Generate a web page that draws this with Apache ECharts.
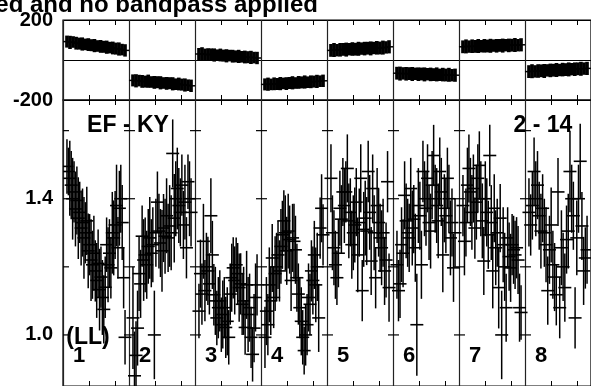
<!DOCTYPE html>
<html>
<head>
<meta charset="utf-8">
<script src="https://cdn.jsdelivr.net/npm/echarts@6/dist/echarts.min.js"></script>
<style>
html,body{margin:0;padding:0;background:#fff;}
#chart{width:591px;height:386px;}
</style>
</head>
<body>
<div id="chart"></div>
<script>
// scan labels along the bottom
const panelNames = ['1', '2', '3', '4', '5', '6', '7', '8'];
const phaseLabels = [-200, 200];
const ampTicks = [1.0, 1.2, 1.4, 1.6];
const ampLabels = [1.0, 1.4];

// phase (deg) per scan: [value, error]
const phase1 = [[92,30],[88,33],[90,29],[84,32],[82,30],[80,33],[78,29],[77,32],[74,30],[72,33],[70,29],[68,32],[66,30],[64,33],[62,29],[60,32],[57,30],[55,33],[52,29],[48,31]];
const phase2 = [[-102,30],[-104,33],[-103,29],[-107,32],[-108,30],[-106,33],[-110,29],[-112,32],[-111,30],[-114,33],[-115,29],[-117,32],[-116,30],[-119,33],[-121,29],[-120,32],[-123,30],[-125,33],[-126,29],[-129,31]];
const phase3 = [[30,30],[31,33],[28,29],[27,32],[28,30],[25,33],[24,29],[25,32],[22,30],[21,33],[22,29],[19,32],[18,30],[18,33],[16,29],[15,32],[14,30],[13,33],[12,29],[10,31]];
const phase4 = [[-122,30],[-121,33],[-122,29],[-119,32],[-120,30],[-118,33],[-117,29],[-118,32],[-115,30],[-114,33],[-115,29],[-112,32],[-112,30],[-110,33],[-111,29],[-109,32],[-108,30],[-107,33],[-106,29],[-104,31]];
const phase5 = [[48,32],[50,35],[49,31],[51,34],[53,32],[52,35],[54,31],[55,34],[54,32],[56,35],[57,31],[57,34],[59,32],[58,35],[60,31],[61,34],[60,32],[62,35],[63,31],[66,33]];
const phase6 = [[-66,32],[-68,35],[-67,31],[-69,34],[-68,32],[-70,35],[-69,31],[-71,34],[-70,32],[-72,35],[-71,31],[-72,34],[-73,32],[-72,35],[-74,31],[-73,34],[-75,32],[-74,35],[-76,31],[-76,33]];
const phase7 = [[66,32],[68,35],[67,31],[69,34],[68,32],[70,35],[69,31],[71,34],[70,32],[71,35],[72,31],[71,34],[73,32],[72,35],[74,31],[73,34],[74,32],[75,35],[74,31],[76,33]];
const phase8 = [[-58,32],[-56,35],[-57,31],[-55,34],[-54,32],[-55,35],[-52,31],[-52,34],[-51,32],[-50,35],[-50,31],[-48,34],[-48,32],[-47,35],[-46,31],[-46,34],[-44,32],[-44,35],[-43,31],[-42,33]];

// amplitude per scan: [value, error]
const amp1 = [[1.495,0.08],[1.48,0.07],[1.46,0.11],[1.44,0.10],[1.40,0.12],[1.42,0.09],[1.37,0.11],[1.395,0.10],[1.343,0.12],[1.36,0.09],[1.314,0.11],[1.33,0.10],[1.285,0.12],[1.30,0.09],[1.335,0.10],[1.247,0.11],[1.265,0.09],[1.22,0.12],[1.206,0.10],[1.24,0.11],[1.188,0.09],[1.16,0.11],[1.21,0.10],[1.133,0.12],[1.17,0.09],[1.11,0.11],[1.075,0.10],[1.14,0.09],[1.265,0.08],[1.206,0.11],[1.24,0.10],[1.197,0.09],[1.30,0.12],[1.285,0.11],[1.323,0.10],[1.38,0.12],[1.256,0.09],[1.372,0.11],[1.40,0.10],[1.33,0.11],[1.168,0.09],[0.993,0.08]];
const amp2 = [[1.05,0.15],[0.88,0.13],[0.94,0.10],[1.02,0.11],[1.18,0.11],[1.15,0.10],[1.29,0.09],[1.22,0.12],[1.235,0.11],[1.206,0.10],[1.26,0.11],[1.285,0.12],[1.24,0.10],[1.265,0.11],[1.0,0.13],[1.30,0.10],[1.39,0.09],[1.305,0.11],[1.27,0.10],[1.247,0.12],[1.314,0.10],[1.29,0.11],[1.35,0.11],[1.285,0.10],[1.32,0.12],[1.30,0.11],[1.533,0.10],[1.343,0.13],[1.40,0.11],[1.43,0.12],[1.38,0.11],[1.36,0.10],[1.44,0.09],[1.323,0.10],[1.39,0.11],[1.256,0.09],[1.45,0.08],[1.40,0.11],[1.36,0.10]];
const amp3 = [[1.07,0.08],[1.18,0.10],[1.12,0.09],[1.275,0.11],[1.13,0.09],[1.20,0.10],[1.188,0.10],[1.15,0.09],[1.35,0.11],[1.235,0.10],[1.118,0.09],[1.10,0.10],[1.05,0.08],[1.08,0.09],[1.10,0.09],[1.03,0.08],[1.06,0.10],[1.08,0.09],[1.022,0.09],[1.04,0.10],[0.993,0.08],[1.12,0.09],[1.168,0.10],[1.197,0.09],[1.16,0.10],[1.206,0.08],[1.18,0.09],[1.139,0.10],[1.15,0.09],[1.09,0.09],[1.10,0.10],[1.022,0.08],[1.147,0.10],[1.06,0.11],[1.08,0.10],[0.993,0.09],[0.943,0.08],[1.02,0.10],[1.11,0.10],[1.147,0.09]];
const amp4 = [[0.993,0.09],[1.07,0.10],[1.03,0.09],[1.147,0.11],[1.10,0.10],[1.226,0.10],[1.11,0.09],[1.18,0.11],[1.20,0.10],[1.235,0.10],[1.188,0.09],[1.26,0.11],[1.294,0.10],[1.335,0.09],[1.30,0.11],[1.247,0.10],[1.305,0.11],[1.28,0.10],[1.16,0.09],[1.285,0.10],[1.275,0.11],[1.25,0.10],[1.168,0.10],[1.12,0.09],[1.08,0.09],[1.04,0.10],[0.993,0.08],[0.954,0.07],[1.00,0.09],[1.03,0.09],[1.11,0.10],[1.09,0.09],[1.188,0.09],[1.16,0.10],[1.235,0.10],[1.147,0.11],[1.20,0.10],[1.05,0.10],[1.314,0.09],[1.372,0.10],[1.294,0.09]];
const amp5 = [[1.46,0.10],[1.30,0.11],[1.256,0.11],[1.206,0.10],[1.168,0.08],[1.24,0.10],[1.372,0.11],[1.34,0.10],[1.42,0.10],[1.38,0.11],[1.42,0.09],[1.489,0.10],[1.335,0.11],[1.36,0.10],[1.265,0.10],[1.30,0.11],[1.323,0.11],[1.39,0.10],[1.235,0.11],[1.33,0.10],[1.46,0.10],[1.13,0.09],[1.31,0.11],[1.343,0.11],[1.305,0.10],[1.48,0.09],[1.36,0.11],[1.217,0.10],[1.43,0.10],[1.30,0.11],[1.168,0.09],[1.38,0.11],[1.33,0.10],[1.285,0.10],[1.256,0.11],[1.30,0.10],[1.188,0.10],[1.22,0.11],[1.45,0.09],[1.139,0.10]];
const amp6 = [[1.206,0.10],[1.13,0.09],[1.15,0.10],[1.265,0.11],[1.24,0.10],[1.41,0.10],[1.335,0.11],[1.30,0.10],[1.285,0.10],[1.43,0.09],[1.314,0.11],[1.34,0.10],[1.256,0.10],[1.03,0.15],[1.38,0.11],[1.35,0.10],[1.206,0.10],[1.48,0.09],[1.40,0.11],[1.372,0.11],[1.46,0.10],[1.33,0.11],[1.305,0.11],[1.44,0.10],[1.527,0.09],[1.40,0.10],[1.38,0.11],[1.335,0.11],[1.48,0.10],[1.42,0.10],[1.235,0.11],[1.372,0.10],[1.35,0.11],[1.46,0.09],[1.40,0.10],[1.285,0.11],[1.33,0.10],[1.197,0.10],[1.30,0.10]];
const amp7 = [[1.38,0.09],[1.275,0.10],[1.33,0.10],[1.44,0.11],[1.489,0.10],[1.42,0.10],[1.36,0.11],[1.43,0.10],[1.314,0.09],[1.39,0.11],[1.46,0.10],[1.498,0.10],[1.40,0.11],[1.335,0.11],[1.217,0.10],[1.40,0.11],[1.36,0.10],[1.294,0.10],[1.527,0.09],[1.33,0.11],[1.188,0.11],[1.372,0.10],[1.256,0.11],[1.30,0.10],[1.139,0.12],[1.343,0.10],[1.0,0.13],[1.265,0.11],[1.20,0.10],[1.08,0.10],[1.285,0.09],[1.23,0.10],[1.197,0.10],[1.265,0.09],[1.25,0.10],[1.235,0.10],[1.256,0.09],[1.22,0.10],[1.08,0.10],[1.066,0.08]];
const amp8 = [[1.36,0.10],[1.323,0.09],[1.38,0.10],[1.48,0.10],[1.40,0.11],[1.44,0.10],[1.35,0.10],[1.305,0.11],[1.372,0.10],[1.30,0.10],[1.265,0.11],[1.13,0.10],[1.25,0.10],[1.323,0.11],[1.206,0.10],[1.17,0.10],[1.118,0.09],[1.42,0.10],[1.08,0.09],[1.256,0.11],[1.20,0.10],[1.139,0.10],[1.28,0.10],[1.305,0.11],[1.48,0.12],[1.40,0.10],[1.35,0.10],[1.05,0.09],[1.285,0.11],[1.40,0.10],[1.51,0.11],[1.32,0.10],[1.188,0.10],[1.226,0.09],[1.25,0.10]];

const phaseScans = [phase1, phase2, phase3, phase4, phase5, phase6, phase7, phase8];
const ampScans = [amp1, amp2, amp3, amp4, amp5, amp6, amp7, amp8];

// spread the samples of each scan across its box
function toSeriesData(scans) {
  const out = [];
  scans.forEach((arr, p) => {
    const n = arr.length;
    arr.forEach((d, k) => {
      out.push([p + 0.06 + 0.88 * k / (n - 1), d[0], d[1]]);
    });
  });
  return out;
}

function crossItem(arm, barW, armW) {
  return function (params, api) {
    const x = api.value(0), v = api.value(1), e = api.value(2);
    const c = api.coord([x, v]);
    const hi = api.coord([x, v + e]);
    const lo = api.coord([x, v - e]);
    return {
      type: 'group',
      children: [
        { type: 'line', shape: { x1: c[0], y1: hi[1], x2: c[0], y2: lo[1] },
          style: { stroke: '#000', lineWidth: barW } },
        { type: 'line', shape: { x1: c[0] - arm, y1: c[1], x2: c[0] + arm, y2: c[1] },
          style: { stroke: '#000', lineWidth: armW } }
      ]
    };
  };
}

const FONT = 'Liberation Sans, Arial, Helvetica, sans-serif';
const minorX = [];
for (let i = 0; i < 8; i++) { minorX.push(i + 0.4, i + 0.79); }

const boxTicks = [];
for (let i = 0; i < 8; i++) ampTicks.forEach(t => boxTicks.push([i, t]));

// one axis for the scan dividers, two more for the small ticks on each edge
function dividerAxis(grid) {
  return {
    type: 'value', gridIndex: grid, position: 'bottom', min: 0, max: 8, interval: 1,
    axisLine: { show: false }, axisLabel: { show: false }, axisTick: { show: false },
    splitLine: { show: true, lineStyle: { color: '#222', width: 1.2 } }
  };
}
function tickAxis(grid, pos) {
  return {
    type: 'value', gridIndex: grid, position: pos, min: 0, max: 8,
    axisLine: { show: false }, axisLabel: { show: false }, splitLine: { show: false },
    axisTick: { show: true, inside: true, length: 5, customValues: minorX,
      lineStyle: { color: '#000', width: 1 } }
  };
}

const chart = echarts.init(document.getElementById('chart'));
chart.setOption({
  backgroundColor: '#fff',
  animation: false,
  grid: [
    { left: 63, top: 20, width: 533.3, height: 80, show: true, borderColor: '#000', borderWidth: 1.2 },
    { left: 63, top: 100, width: 533.3, height: 288, show: true, borderColor: '#000', borderWidth: 1.2 }
  ],
  xAxis: [dividerAxis(0), tickAxis(0, 'top'), tickAxis(0, 'bottom'),
          dividerAxis(1), tickAxis(1, 'top'), tickAxis(1, 'bottom')],
  yAxis: [
    { type: 'value', gridIndex: 0, min: -200, max: 200, interval: 200,
      axisLine: { show: false }, axisTick: { show: false },
      axisLabel: { color: '#000', fontSize: 20, fontWeight: 'bold', fontFamily: FONT, margin: 10,
        customValues: phaseLabels },
      splitLine: { show: true, lineStyle: { color: '#000', width: 1.2 } } },
    { type: 'value', gridIndex: 1, min: 0.85, max: 1.69,
      axisLine: { show: false },
      axisTick: { show: false },
      axisLabel: { color: '#000', fontSize: 20, fontWeight: 'bold', fontFamily: FONT, margin: 10,
        customValues: ampLabels, formatter: v => v.toFixed(1) },
      splitLine: { show: false } }
  ],
  series: [
    { type: 'custom', name: 'phase', xAxisIndex: 0, yAxisIndex: 0, clip: true,
      renderItem: crossItem(4, 3.6, 1.5), data: toSeriesData(phaseScans) },
    { type: 'custom', name: 'amplitude', xAxisIndex: 3, yAxisIndex: 1, clip: true,
      renderItem: crossItem(6.5, 1.5, 1.6), data: toSeriesData(ampScans) },
    { type: 'custom', name: 'boxTicks', xAxisIndex: 3, yAxisIndex: 1, silent: true,
      renderItem: function (params, api) {
        const c = api.coord([api.value(0), api.value(1)]);
        const left = api.value(0) === 0 ? c[0] : c[0] - 5;
        return { type: 'line', shape: { x1: left, y1: c[1], x2: c[0] + 6, y2: c[1] },
          style: { stroke: '#000', lineWidth: 1.2 } };
      },
      data: boxTicks },
    { type: 'custom', name: 'scanNo', xAxisIndex: 3, yAxisIndex: 1, silent: true,
      renderItem: function (params, api) {
        const c = api.coord([api.value(0) + 0.15, 0.937]);
        return { type: 'text', x: c[0], y: c[1],
          style: { text: panelNames[params.dataIndex], fill: '#000', fontSize: 22, fontWeight: 'bold',
            fontFamily: FONT, align: 'left', verticalAlign: 'middle' } };
      },
      data: panelNames.map((n, i) => [i]) }
  ],
  graphic: [
    { type: 'text', x: 318, y: 5, style: { text: 'ed and no bandpass applied', fill: '#000',
        fontSize: 24, fontWeight: 'bold', fontFamily: FONT, align: 'right', verticalAlign: 'middle' } },
    { type: 'text', x: 128, y: 126, style: { text: 'EF - KY', fill: '#000',
        fontSize: 23, fontWeight: 'bold', fontFamily: FONT, align: 'center', verticalAlign: 'middle' } },
    { type: 'text', x: 543, y: 126, style: { text: '2 - 14', fill: '#000',
        fontSize: 23, fontWeight: 'bold', fontFamily: FONT, align: 'center', verticalAlign: 'middle' } },
    { type: 'text', x: 88, y: 338, style: { text: '(LL)', fill: '#000',
        fontSize: 23, fontWeight: 'bold', fontFamily: FONT, align: 'center', verticalAlign: 'middle' } }
  ]
});
</script>
</body>
</html>
